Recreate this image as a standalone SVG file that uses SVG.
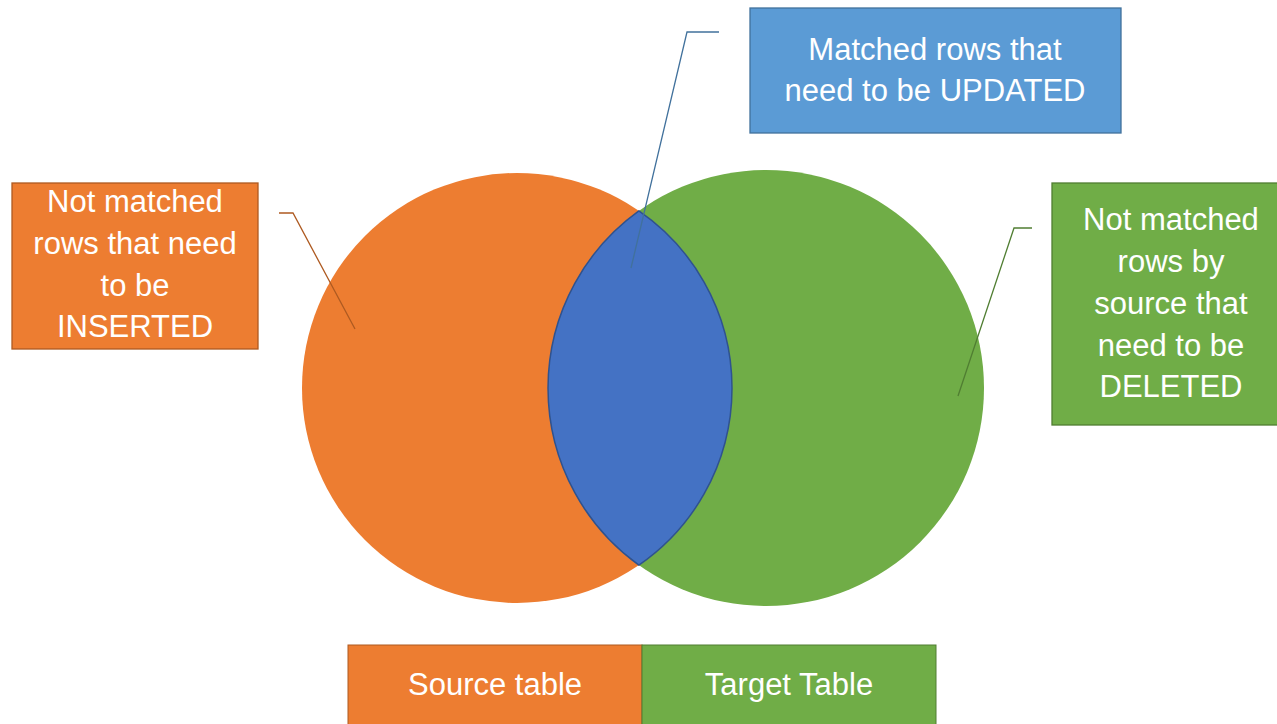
<svg xmlns="http://www.w3.org/2000/svg" width="1277" height="724" viewBox="0 0 1277 724">
<style>
text{font-family:"Liberation Sans",Arial,sans-serif;font-size:31px;fill:#ffffff;text-anchor:middle}
.ln{fill:none;stroke-width:1.3}
</style>
<rect x="0" y="0" width="1277" height="724" fill="#ffffff"/>
<g id="source-circle"><circle cx="517" cy="388" r="215" fill="#ED7D31"/></g>
<g id="target-circle"><circle cx="766" cy="388" r="218" fill="#70AD47"/></g>
<g id="intersection"><path d="M638.9,210.9 A218,218 0 0 0 638.9,565.1 A215,215 0 0 0 638.9,210.9 Z" fill="#4472C4" stroke="#2F528F" stroke-width="1.5"/></g>
<g id="connectors">
<polyline class="ln" stroke="#AE5A21" points="279,213 293,213 355,329"/>
<polyline class="ln" stroke="#41719C" points="719,32 687,32 631,268"/>
<polyline class="ln" stroke="#507E32" points="1032,228 1014,228 958,396"/>
</g>
<g id="insert-box">
<rect x="12" y="183" width="246" height="166" fill="#ED7D31" stroke="#AE5A21" stroke-width="1.3"/>
<text x="135" y="212">Not matched</text>
<text x="135" y="254">rows that need</text>
<text x="135" y="296">to be</text>
<text x="135" y="337">INSERTED</text>
</g>
<g id="update-box">
<rect x="750" y="8" width="371" height="125" fill="#5B9BD5" stroke="#41719C" stroke-width="1.3"/>
<text x="935" y="60">Matched rows that</text>
<text x="935" y="101">need to be UPDATED</text>
</g>
<g id="delete-box">
<rect x="1052" y="183" width="240" height="242" fill="#70AD47" stroke="#507E32" stroke-width="1.3"/>
<text x="1171" y="230">Not matched</text>
<text x="1171" y="272">rows by</text>
<text x="1171" y="314">source that</text>
<text x="1171" y="356">need to be</text>
<text x="1171" y="397">DELETED</text>
</g>
<g id="source-legend">
<rect x="348" y="645" width="294" height="90" fill="#ED7D31" stroke="#AE5A21" stroke-width="1"/>
<text x="495" y="695">Source table</text>
</g>
<g id="target-legend">
<rect x="642" y="645" width="294" height="90" fill="#70AD47" stroke="#507E32" stroke-width="1"/>
<text x="789" y="695">Target Table</text>
</g>
</svg>
